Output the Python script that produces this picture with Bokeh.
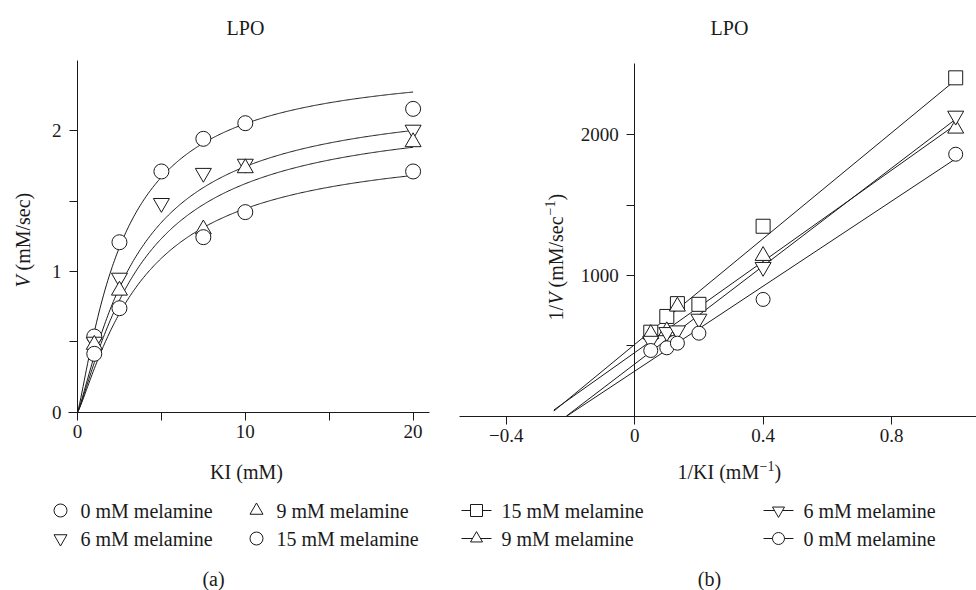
import numpy as np
from bokeh.plotting import figure
from bokeh.models import Range1d, LinearAxis, FixedTicker, Label
from bokeh.layouts import row
from bokeh.embed import file_html
from bokeh.resources import INLINE

# ---------------- data, panel (a): V vs KI ----------------
ki = [1, 2.5, 5, 7.5, 10, 20]
v_0mM = [0.538, 1.208, 1.711, 1.943, 2.054, 2.156]
v_6mM = [0.50, 0.955, 1.486, 1.70, 1.765, 2.007]
ki_9mM = [1, 2.5, 7.5, 10, 20]
v_9mM = [0.48, 0.865, 1.30, 1.735, 1.92]
ki_15mM = [1, 2.5, 7.5, 10, 20]
v_15mM = [0.415, 0.739, 1.244, 1.422, 1.711]
# fitted saturation curves (0, 6, 9, 15 mM melamine)
fit_vmax = [2.486, 2.258, 2.147, 1.924]
fit_k = [2.75, 3.60, 3.89, 3.97]
fit_n = 1.2

# ---------------- data, panel (b): 1/V vs 1/KI ----------------
inv_ki = [0.05, 0.1, 0.133, 0.2, 0.4, 1.0]
inv_v_15mM = [597, 709, 800, 795, 1350, 2405]
inv_ki_9mM = [0.05, 0.1, 0.133, 0.4, 1.0]
inv_v_9mM = [585, 605, 780, 1140, 2045]
inv_v_6mM = [535, 597, 609, 692, 1060, 2135]
inv_v_0mM = [467, 486, 519, 590, 830, 1862]
# regression lines (15, 9, 6, 0 mM melamine)
lb_slope = [1880, 1620, 1740, 1510]
lb_icpt = [510, 452, 371, 320]
lb_xstart = [-0.252, -0.252, -0.213, -0.212]

a_xticks = [0, 5, 10, 15, 20]
a_yticks = [0, 0.5, 1, 1.5, 2]
b_xticks = [-0.4, 0, 0.4, 0.8]
b_yticks = [500, 1000, 1500, 2000]

FONT = "Liberation Serif"
INK = "#1a1a1a"

# ---------------- pixel mapping helpers (window px -> data) ----------------
A_LEFT, A_W, TOP, H = 0, 440, 0, 590
A_X0, A_XS, A_Y0, A_YS = 77.0, 16.78, 411.7, 140.7
B_LEFT, B_W = 440, 536
B_X0, B_XS, B_Y0, B_YS = 634.2, 321.0, 415.7, 0.1407


def axA(X):
    return (X - A_X0) / A_XS


def ayA(Y):
    return (A_Y0 - Y) / A_YS


def axB(X):
    return (X - B_X0) / B_XS


def ayB(Y):
    return (B_Y0 - Y) / B_YS


def make_fig(left, w, axf, ayf):
    p = figure(width=w, height=H,
               x_range=Range1d(axf(left), axf(left + w)),
               y_range=Range1d(ayf(TOP + H), ayf(TOP)),
               x_axis_type=None, y_axis_type=None,
               output_backend="svg", toolbar_location=None, min_border=0)
    p.outline_line_color = None
    p.background_fill_color = "white"
    p.border_fill_color = "white"
    return p


def style_axis(a):
    a.axis_line_color = INK
    a.axis_line_width = 1
    a.major_tick_line_color = INK
    a.major_tick_in = 0
    a.major_tick_out = 8
    a.minor_tick_line_color = None
    a.major_label_text_font = FONT
    a.major_label_text_font_size = "19px"
    a.major_label_text_color = INK


def add_text(p, axf, ayf, X, Y, txt, size="20px", align="left", style="normal",
             angle=0.0, baseline="middle"):
    p.add_layout(Label(x=axf(X), y=ayf(Y), text=txt, text_font=FONT,
                       text_font_size=size, text_align=align, text_baseline=baseline,
                       text_font_style=style, angle=angle, text_color=INK))


MK = dict(fill_color="white", line_color=INK, line_width=1)

# ======================= panel (a) =======================
pA = make_fig(A_LEFT, A_W, axA, ayA)

xa = LinearAxis(fixed_location=0, bounds=(-0.54, 21), ticker=FixedTicker(ticks=a_xticks),
                major_label_overrides={5: "", 15: ""}, major_label_standoff=5)
style_axis(xa)
pA.add_layout(xa, "below")
ya = LinearAxis(fixed_location=0, bounds=(0, 2.5), ticker=FixedTicker(ticks=a_yticks),
                major_label_overrides={0.5: "", 1.5: ""}, major_label_standoff=8)
style_axis(ya)
pA.add_layout(ya, "left")

xs = np.linspace(0, 20, 300)
for vm, k in zip(fit_vmax, fit_k):
    ys = vm * xs ** fit_n / (k ** fit_n + xs ** fit_n)
    pA.line(xs, ys, line_color=INK, line_width=1)

pA.scatter(ki, v_0mM, marker="circle", size=15, **MK)
pA.scatter(ki, v_6mM, marker="inverted_triangle", size=16, **MK)
pA.scatter(ki_9mM, v_9mM, marker="triangle", size=16, **MK)
pA.scatter(ki_15mM, v_15mM, marker="circle", size=15, **MK)

add_text(pA, axA, ayA, 245, 27, "LPO", align="center")
add_text(pA, axA, ayA, 246, 471, "KI (mM)", align="center")
add_text(pA, axA, ayA, 22, 287, "V", style="italic", angle=np.pi / 2)
add_text(pA, axA, ayA, 22, 270, "(mM/sec)", angle=np.pi / 2)

# legend (a)
legA = [(60, 510, "circle", "0 mM melamine"), (256, 510, "triangle", "9 mM melamine"),
        (60, 538, "inverted_triangle", "6 mM melamine"), (256, 538, "circle", "15 mM melamine")]
for X, Y, mk, lab in legA:
    pA.scatter([axA(X)], [ayA(Y)], marker=mk, size=13, **MK)
    add_text(pA, axA, ayA, X + 20, Y, lab)
add_text(pA, axA, ayA, 213, 578, "(a)", align="center")

# ======================= panel (b) =======================
pB = make_fig(B_LEFT, B_W, axB, ayB)

xb = LinearAxis(fixed_location=0, bounds=(-0.545, 1.2), ticker=FixedTicker(ticks=b_xticks),
                major_label_overrides={-0.4: "\u22120.4"}, major_label_standoff=5)
style_axis(xb)
pB.add_layout(xb, "below")
yb = LinearAxis(fixed_location=0, bounds=(0, 2505), ticker=FixedTicker(ticks=b_yticks),
                major_label_overrides={500: "", 1500: ""}, major_label_standoff=8)
style_axis(yb)
pB.add_layout(yb, "left")

for s, b, x0 in zip(lb_slope, lb_icpt, lb_xstart):
    lx = np.array([x0, 1.0])
    pB.line(lx, b + s * lx, line_color=INK, line_width=1)

pB.scatter(inv_ki, inv_v_15mM, marker="square", size=14, **MK)
pB.scatter(inv_ki_9mM, inv_v_9mM, marker="triangle", size=16, **MK)
pB.scatter(inv_ki, inv_v_6mM, marker="inverted_triangle", size=16, **MK)
pB.scatter(inv_ki, inv_v_0mM, marker="circle", size=14, **MK)

add_text(pB, axB, ayB, 729, 27, "LPO", align="center")
# x-axis title 1/KI (mM^-1)
add_text(pB, axB, ayB, 677, 471, "1/KI (mM")
add_text(pB, axB, ayB, 759, 465, "\u22121", size="14px")
add_text(pB, axB, ayB, 774, 471, ")")
# y-axis title 1/V (mM/sec^-1), rotated
add_text(pB, axB, ayB, 555, 320, "1/", angle=np.pi / 2)
add_text(pB, axB, ayB, 555, 304, "V", style="italic", angle=np.pi / 2)
add_text(pB, axB, ayB, 555, 287, "(mM/sec", angle=np.pi / 2)
add_text(pB, axB, ayB, 549, 215, "\u22121", size="14px", angle=np.pi / 2)
add_text(pB, axB, ayB, 555, 200, ")", angle=np.pi / 2)

# legend (b)
legB = [(476, 510, "square", "15 mM melamine"), (778, 510, "inverted_triangle", "6 mM melamine"),
        (476, 538, "triangle", "9 mM melamine"), (778, 538, "circle", "0 mM melamine")]
for X, Y, mk, lab in legB:
    pB.line([axB(X - 15), axB(X + 15)], [ayB(Y), ayB(Y)], line_color=INK, line_width=1)
    pB.scatter([axB(X)], [ayB(Y)], marker=mk, size=12, **MK)
    add_text(pB, axB, ayB, X + 25, Y, lab)
add_text(pB, axB, ayB, 709, 578, "(b)", align="center")

layout = row(pA, pB)
open("out.html", "w").write(file_html(layout, INLINE))
